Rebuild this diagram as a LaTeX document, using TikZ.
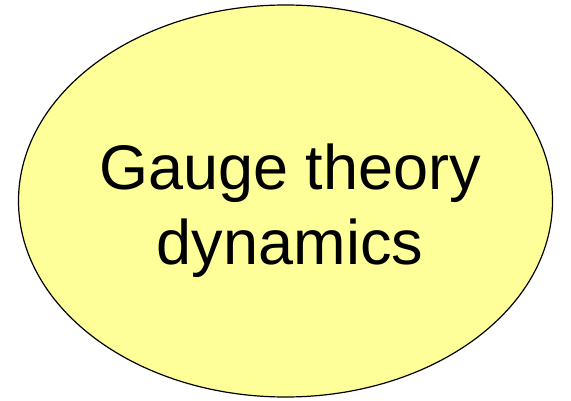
\documentclass[tikz,border=0pt]{standalone}
\usepackage{fontspec}
\setmainfont{Liberation Sans}
\definecolor{blobfill}{HTML}{FFFF99}
\begin{document}
\begin{tikzpicture}[x=1pt,y=1pt,
  lbl/.style={font=\fontsize{63}{72}\selectfont, inner sep=0pt, anchor=base}]
\useasboundingbox (0,0) rectangle (571,-401);
\draw[fill=blobfill, line width=1.2pt] (285.5,-201) ellipse [x radius=267, y radius=196];
\node[lbl] (l1) at (290,-190) {Gauge theory};
\node[lbl] (l2) at (290,-265) {dynamics};
\end{tikzpicture}
\end{document}
